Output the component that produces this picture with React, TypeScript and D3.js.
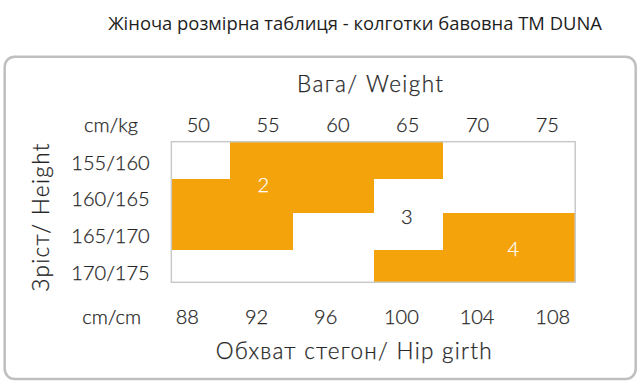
import React from "react";
import * as d3 from "d3";

const title = "Жіноча розмірна таблиця - колготки бавовна ТМ DUNA";
const weightTitle = "Вага/ Weight";
const heightTitle = "Зріст/ Height";
const hipTitle = "Обхват стегон/ Hip girth";
const topUnit = "cm/kg";
const bottomUnit = "cm/cm";

const weightTicks = [50, 55, 60, 65, 70, 75];
const hipTicks = [88, 92, 96, 100, 104, 108];
const heightLabels = ["155/160", "160/165", "165/170", "170/175"];

// grid extent in weight units
const weightMin = 48.07;
const weightMax = 77.0;

// coloured size blocks: row index (0 = 155/160) and weight span
const blockRows = [0, 1, 2, 2, 3];
const blockFrom = [52.3, weightMin, weightMin, 67.5, 62.6];
const blockTo = [67.5, 62.6, 56.8, weightMax, weightMax];

// size labels: text, weight position, row position
const sizeNames = ["2", "3", "4"];
const sizeWeight = [54.66, 64.93, 72.56];
const sizeRow = [1.17, 2.11, 2.95];
const sizeOnColour = [true, false, true];

const W = 640;
const H = 387;
const ORANGE = "#F4A30B";
const TEXT = "#262626";
const FONT = "Lato, 'Open Sans', sans-serif";
const LIGHT = 300;

export default function App() {
  React.useEffect(() => {
    document.body.style.margin = "0";
  }, []);

  const x = d3.scaleLinear().domain([50, 75]).range([198.3, 547.3]);
  const y = d3.scaleLinear().domain([0, 1, 2, 3, 4]).range([141.7, 178.7, 212.5, 250.3, 282.3]);
  const xHip = d3.scaleLinear().domain([88, 96, 108]).range([187.3, 325.7, 552.7]);
  const yLabel = d3.scalePoint<string>().domain(heightLabels).range([162.3, 272.7]);

  const gx0 = x(weightMin);
  const gx1 = x(weightMax);
  const r = (v: number) => Math.round(v);

  const txt = { fontFamily: FONT, fontWeight: LIGHT, fill: TEXT, stroke: TEXT, strokeWidth: 0.25 } as const;

  return (
    <svg width={W} height={H} style={{ position: "absolute", left: 0, top: 0, display: "block" }}>
      <rect width={W} height={H} fill="#fff" />
      <text x={355} y={30} textAnchor="middle" fontFamily="'Open Sans', sans-serif" fontSize={18.4} fontWeight={500} fill="#1e1e1e">
        {title}
      </text>
      <rect x={4.7} y={56.7} width={631} height={322.3} rx={10} ry={10} fill="#fff" stroke="#bfbfbf" strokeWidth={2.5} />

      <text x={370} y={92.3} textAnchor="middle" {...txt} fontSize={22.5} textLength={146} lengthAdjust="spacing">
        {weightTitle}
      </text>
      <text x={111} y={132.3} textAnchor="middle" {...txt} fontSize={20}>
        {topUnit}
      </text>
      {weightTicks.map((t) => (
        <text key={t} x={x(t)} y={132.3} textAnchor="middle" {...txt} fontSize={20}>
          {t}
        </text>
      ))}

      <text transform={`translate(48.5,217.5) rotate(-90)`} textAnchor="middle" {...txt} fontSize={22.5} textLength={148} lengthAdjust="spacing">
        {heightTitle}
      </text>
      {heightLabels.map((l) => (
        <text key={l} x={110.5} y={yLabel(l)} dy="0.36em" textAnchor="middle" {...txt} fontSize={20}>
          {l}
        </text>
      ))}

      <rect x={gx0} y={y(0)} width={gx1 - gx0} height={y(4) - y(0)} fill="#fff" />
      <g shapeRendering="crispEdges">
        {blockRows.map((row, i) => (
          <rect
            key={i}
            x={r(x(blockFrom[i]))}
            y={r(y(row))}
            width={r(x(blockTo[i])) - r(x(blockFrom[i]))}
            height={r(y(row + 1)) - r(y(row))}
            fill={ORANGE}
          />
        ))}
      </g>
      <rect x={gx0} y={y(0)} width={gx1 - gx0} height={y(4) - y(0)} fill="none" stroke="#c9c9c9" strokeWidth={1.5} />

      {sizeNames.map((s, i) => (
        <text
          key={s}
          x={x(sizeWeight[i])}
          y={y(sizeRow[i])}
          dy="0.36em"
          textAnchor="middle"
          {...txt}
          fontSize={20}
          fill={sizeOnColour[i] ? "#fff" : TEXT}
          stroke={sizeOnColour[i] ? "#fff" : TEXT}
        >
          {s}
        </text>
      ))}

      <text x={111.7} y={323.5} textAnchor="middle" {...txt} fontSize={20}>
        {bottomUnit}
      </text>
      {hipTicks.map((t) => (
        <text key={t} x={xHip(t)} y={323.5} textAnchor="middle" {...txt} fontSize={20}>
          {t}
        </text>
      ))}
      <text x={353.7} y={359} textAnchor="middle" {...txt} fontSize={22.5} textLength={276} lengthAdjust="spacing">
        {hipTitle}
      </text>
    </svg>
  );
}
